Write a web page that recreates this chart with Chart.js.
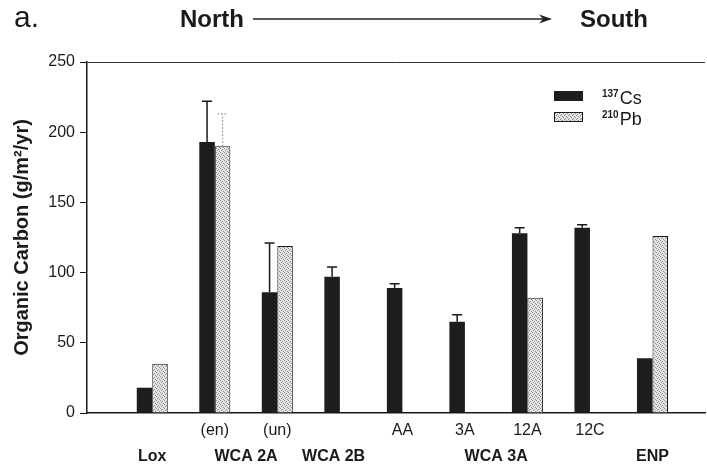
<!DOCTYPE html>
<html lang="en">
<head>
<meta charset="utf-8">
<title>Organic Carbon</title>
<script src="https://cdn.jsdelivr.net/npm/chart.js@4.4.1/dist/chart.umd.min.js"></script>
<style>
  body { margin: 0; background: #fff; font-family: "Liberation Sans", Arial, sans-serif; color: #1a1a1a; }
  #quadro { position: relative; width: 707px; height: 466px; overflow: hidden; }
  #grafico { position: absolute; left: 0; top: 0; }
  .titulo { position: absolute; white-space: nowrap; }
  #letra { left: 14px; top: 2px; font-size: 30px; line-height: 30px; }
  #norte { left: 180px; top: 7px; font-size: 24px; line-height: 24px; font-weight: bold; }
  #sul { left: 580px; top: 7px; font-size: 24px; line-height: 24px; font-weight: bold; }
  #seta { position: absolute; left: 0; top: 0; }
  #legenda { position: absolute; left: 554px; top: 86px; }
  .item { display: flex; align-items: center; height: 20.5px; }
  .caixa { width: 29px; height: 10px; margin-right: 19px; box-sizing: border-box; }
  .rotulo { font-size: 18px; line-height: 20px; }
  .rotulo sup { font-size: 10px; font-weight: bold; vertical-align: 7px; margin-right: 1px; }
</style>
</head>
<body>
<div id="quadro">
  <canvas id="grafico" width="707" height="466"></canvas>
  <div class="titulo" id="letra">a.</div>
  <div class="titulo" id="norte">North</div>
  <svg id="seta" width="707" height="40">
    <line x1="253" y1="19" x2="550" y2="19" stroke="#222" stroke-width="1.4"/>
    <path d="M539 14.5 L552 19 L539 23.5 L543 19 Z" fill="#222"/>
  </svg>
  <div class="titulo" id="sul">South</div>
  <div id="legenda"></div>
</div>
<script>
// locais de amostragem, de norte para sul
const locais = ['Lox', 'WCA 2A (en)', 'WCA 2A (un)', 'WCA 2B', 'AA', '3A', '12A', '12C', 'ENP'];
const rotulosSub = ['', '(en)', '(un)', '', 'AA', '3A', '12A', '12C', ''];
const rotulosGrupo = ['Lox', 'WCA 2A', 'WCA 2B', 'WCA 3A', 'ENP'];
const posicoesGrupo = [0, 1.5, 2.9, 5.5, 8];

// acumulo de carbono organico (g/m2/ano)
const cs137 = [18, 193, 86, 97, 89, 65, 128, 132, 39];
const cs137Erro = [null, 29, 35, 7, 3, 5, 4, 2, null];
const pb210 = [35, 190, 119, null, null, null, 82, null, 126];
const pb210Erro = [null, 23, null, null, null, null, null, null, null];

const ticksY = [0, 50, 100, 150, 200, 250];

Chart.defaults.font.family = '"Liberation Sans", Arial, sans-serif';
Chart.defaults.color = '#1a1a1a';

const padraoPb = criarPadrao();

const barrasErro = {
  id: 'barrasErro',
  afterDatasetsDraw(chart) {
    const { ctx } = chart;
    const escalaY = chart.scales.y;
    chart.data.datasets.forEach((ds, d) => {
      if (!ds.erro) return;
      const meta = chart.getDatasetMeta(d);
      ds.erro.forEach((erro, i) => {
        if (erro == null || ds.data[i].y == null) return;
        const barra = meta.data[i];
        const topo = escalaY.getPixelForValue(ds.data[i].y + erro);
        ctx.save();
        ctx.strokeStyle = ds.corErro;
        ctx.lineWidth = ds.pontilhado ? 1.2 : 1.5;
        if (ds.pontilhado) ctx.setLineDash([1.5, 2]);
        ctx.beginPath();
        ctx.moveTo(barra.x, barra.y);
        ctx.lineTo(barra.x, topo);
        ctx.moveTo(barra.x - 5, topo);
        ctx.lineTo(barra.x + 5, topo);
        ctx.stroke();
        ctx.restore();
      });
    });
  }
};

const legendaHtml = {
  id: 'legendaHtml',
  afterUpdate(chart) {
    const caixa = document.getElementById('legenda');
    caixa.innerHTML = chart.data.datasets.map((ds) => {
      const fundo = ds.imagemLegenda ? `background-image:url(${ds.imagemLegenda});border:1px solid #1a1a1a;` : `background:${ds.backgroundColor};`;
      return `<div class="item"><div class="caixa" style="${fundo}"></div><div class="rotulo"><sup>${ds.massa}</sup>${ds.elemento}</div></div>`;
    }).join('');
  }
};

new Chart(document.getElementById('grafico'), {
  type: 'bar',
  data: {
    datasets: [{
      label: '¹³⁷Cs',
      massa: '137',
      elemento: 'Cs',
      data: cs137.map((v, i) => ({ x: i, y: v })),
      erro: cs137Erro,
      corErro: '#1a1a1a',
      backgroundColor: '#1f1c1c',
      borderWidth: 0
    }, {
      label: '²¹⁰Pb',
      massa: '210',
      elemento: 'Pb',
      data: pb210.map((v, i) => ({ x: i, y: v })),
      erro: pb210Erro,
      corErro: '#8c8c8c',
      pontilhado: true,
      backgroundColor: padraoPb.padrao,
      imagemLegenda: padraoPb.url,
      borderColor: '#1a1a1a',
      borderWidth: 1
    }]
  },
  options: {
    responsive: false,
    animation: false,
    layout: { padding: { top: 62, right: 2, bottom: 0, left: 0 } },
    categoryPercentage: 0.496,
    barPercentage: 1,
    plugins: {
      legend: { display: false },
      tooltip: {
        callbacks: {
          title: (itens) => locais[itens[0].parsed.x],
          label: (item) => `${item.dataset.label}: ${item.parsed.y}`
        }
      }
    },
    scales: {
      x: {
        type: 'linear',
        position: 'bottom',
        weight: 0,
        min: -1.044,
        max: 8.84,
        offset: false,
        afterBuildTicks: (eixo) => { eixo.ticks = locais.map((_, i) => ({ value: i })); },
        afterFit: (eixo) => { eixo.height = 26; },
        ticks: {
          autoSkip: false,
          maxRotation: 0,
          padding: 8,
          font: { size: 16 },
          callback: (valor) => rotulosSub[valor] ?? ''
        },
        grid: { display: false, drawTicks: false },
        border: { color: '#1a1a1a', width: 1.5 }
      },
      xGrupo: {
        type: 'linear',
        position: 'bottom',
        weight: 1,
        min: -1.044,
        max: 8.84,
        offset: false,
        afterBuildTicks: (eixo) => { eixo.ticks = posicoesGrupo.map((p) => ({ value: p })); },
        afterFit: (eixo) => { eixo.height = 27; },
        ticks: {
          autoSkip: false,
          maxRotation: 0,
          padding: 7.5,
          font: { size: 16, weight: 'bold' },
          callback: (valor, i) => rotulosGrupo[i]
        },
        grid: { display: false, drawTicks: false },
        border: { display: false }
      },
      y: {
        min: 0,
        max: 250,
        afterBuildTicks: (eixo) => { eixo.ticks = ticksY.map((v) => ({ value: v })); },
        afterFit: (eixo) => { eixo.width = 87; },
        ticks: { font: { size: 16 }, padding: 5 },
        grid: {
          color: (c) => c.tick && c.tick.value === 250 ? '#333' : 'rgba(0,0,0,0)',
          tickColor: '#1a1a1a',
          tickLength: 7,
          lineWidth: 1
        },
        border: { color: '#1a1a1a', width: 1.5 },
        title: {
          display: true,
          text: 'Organic Carbon (g/m²/yr)',
          font: { size: 20, weight: 'bold' },
          padding: { top: 10, bottom: 0 }
        }
      }
    }
  },
  plugins: [barrasErro, legendaHtml]
});

function criarPadrao() {
  const c = document.createElement('canvas');
  c.width = 4;
  c.height = 4;
  const g = c.getContext('2d');
  g.fillStyle = '#e6e6e6';
  g.fillRect(0, 0, 4, 4);
  g.fillStyle = '#8c8c8c';
  [[0, 0], [2, 1], [1, 2], [3, 3]].forEach(([px, py]) => g.fillRect(px, py, 1, 1));
  return { padrao: g.createPattern(c, 'repeat'), url: c.toDataURL() };
}
</script>
</body>
</html>
